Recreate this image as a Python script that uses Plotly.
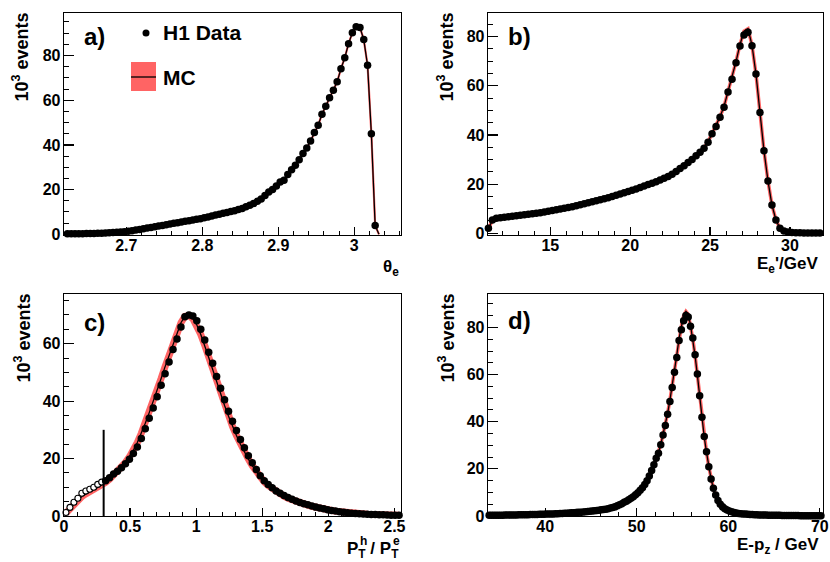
import numpy as np
import plotly.graph_objects as go

# ---------------- data ----------------
# a) theta_e, bins of 0.005 starting at centre 2.6225
theta_start, theta_width = 2.6225, 0.005
theta_data = [
    0.3, 0.3, 0.3, 0.3, 0.3, 0.4, 0.4, 0.4, 0.5, 0.5,
    0.6, 0.7, 0.8, 0.9, 1.0, 1.2, 1.4, 1.6, 1.9, 2.2,
    2.5, 2.8, 3.1, 3.4, 3.7, 4.0, 4.3, 4.6, 4.9, 5.2,
    5.5, 5.8, 6.1, 6.4, 6.7, 7.0, 7.4, 7.8, 8.2, 8.6,
    9.0, 9.4, 9.8, 10.2, 10.6, 11.1, 11.6, 12.3, 13.0, 13.8,
    14.8, 15.8, 17.4, 18.9, 20.1, 21.6, 23.4, 24.2, 26.8, 28.9,
    30.9, 33.4, 36.1, 38.6, 41.8, 45.5, 48.8, 53.7, 57.3, 61.1,
    64.4, 68.2, 74.1, 79.0, 85.3, 90.2, 92.8, 92.5, 87.1, 75.6,
    45.0, 4.0,
]
theta_mc = theta_data + [0.0]

# b) E_e', bins of 0.25 GeV starting at centre 11.125
ee_start, ee_width = 11.125, 0.25
ee_data = [
    2.0, 5.4, 6.1, 6.3, 6.5, 6.7, 6.9, 7.1, 7.3, 7.5,
    7.7, 7.9, 8.1, 8.4, 8.7, 9.0, 9.3, 9.6, 9.9, 10.2,
    10.5, 10.8, 11.2, 11.6, 12.0, 12.4, 12.8, 13.2, 13.6, 14.0,
    14.5, 15.0, 15.5, 16.0, 16.5, 17.0, 17.5, 18.0, 18.6, 19.2,
    19.8, 20.4, 21.0, 21.7, 22.4, 23.1, 24.0, 25.1, 26.3, 27.5,
    28.8, 30.0, 31.5, 33.0, 34.6, 37.0, 40.5, 43.4, 47.2, 51.3,
    57.5, 62.7, 69.4, 76.2, 80.7, 81.8, 76.3, 64.8, 49.1, 33.6,
    21.3, 11.5, 5.4, 2.0, 0.9, 0.5, 0.3, 0.2, 0.2, 0.1,
    0.1, 0.1, 0.1, 0.1,
]
ee_mc = [
    2.0, 5.2, 6.0, 6.3, 6.5, 6.7, 6.9, 7.1, 7.3, 7.5,
    7.7, 7.9, 8.1, 8.4, 8.7, 9.0, 9.3, 9.6, 9.9, 10.2,
    10.5, 10.8, 11.2, 11.6, 12.0, 12.4, 12.8, 13.2, 13.6, 14.0,
    14.5, 15.0, 15.5, 16.0, 16.5, 17.0, 17.5, 18.0, 18.6, 19.2,
    19.8, 20.4, 21.0, 21.7, 22.4, 23.1, 24.0, 25.1, 26.3, 27.5,
    28.8, 30.0, 31.5, 33.0, 34.8, 37.2, 40.5, 43.6, 47.4, 51.6,
    57.5, 63.0, 69.8, 76.8, 82.2, 83.2, 76.5, 64.8, 49.1, 33.6,
    21.3, 11.5, 5.4, 2.0, 0.9, 0.5, 0.3, 0.2, 0.2, 0.1,
    0.1, 0.1, 0.1, 0.1,
]

# c) P_T^h / P_T^e, bins of 0.03 starting at centre 0.015
pt_start, pt_width = 0.015, 0.03
pt_cut, pt_cut_height = 0.3, 30
pt_data = [
    1.2, 3.0, 4.8, 6.2, 7.9, 8.7, 9.3, 10.0, 11.0, 11.8,
    12.3, 13.3, 14.6, 15.6, 16.8, 18.2, 19.8, 21.8, 24.0, 27.0,
    30.4, 34.0, 37.6, 41.5, 45.5, 49.5, 53.6, 58.0, 61.6, 65.8,
    69.4, 70.0, 69.6, 68.0, 65.0, 61.3, 57.0, 53.2, 48.6, 44.5,
    40.5, 36.5, 33.0, 29.8, 26.6, 23.8, 21.0, 18.5, 16.2, 14.0,
    12.3, 11.0, 9.8, 8.7, 7.9, 7.1, 6.4, 5.8, 5.2, 4.7,
    4.3, 3.9, 3.5, 3.1, 2.8, 2.5, 2.2, 1.9, 1.7, 1.5,
    1.3, 1.1, 1.0, 0.9, 0.8, 0.7, 0.6, 0.55, 0.5, 0.45,
    0.4, 0.35, 0.3, 0.3, 0.25,
]
pt_mc = [
    1.0, 2.6, 4.2, 5.6, 6.8, 7.7, 8.4, 9.1, 9.9, 10.7,
    11.7, 12.8, 14.1, 15.5, 17.0, 18.7, 20.6, 22.9, 25.6, 28.8,
    32.3, 36.0, 39.8, 43.8, 47.9, 52.0, 56.0, 60.0, 64.0, 67.3,
    69.5, 69.8, 68.7, 66.5, 63.2, 59.4, 55.2, 51.0, 46.7, 42.5,
    38.5, 34.7, 31.2, 28.0, 25.0, 22.3, 19.8, 17.5, 15.4, 13.5,
    11.9, 10.6, 9.5, 8.5, 7.7, 6.9, 6.2, 5.6, 5.1, 4.6,
    4.2, 3.8, 3.4, 3.0, 2.7, 2.4, 2.1, 1.9, 1.7, 1.5,
    1.3, 1.1, 1.0, 0.9, 0.8, 0.7, 0.6, 0.55, 0.5, 0.45,
    0.4, 0.35, 0.3, 0.3, 0.25,
]

# d) E - p_z, bins of 0.25 GeV starting at centre 33.875
epz_start, epz_width = 33.875, 0.25
epz_data = [
    0.3, 0.3, 0.3, 0.3, 0.35, 0.35, 0.35, 0.4, 0.4, 0.4,
    0.45, 0.45, 0.45, 0.5, 0.5, 0.5, 0.55, 0.55, 0.6, 0.6,
    0.65, 0.65, 0.7, 0.7, 0.75, 0.8, 0.82, 0.85, 0.9, 0.95,
    1.0, 1.05, 1.1, 1.15, 1.2, 1.27, 1.34, 1.41, 1.48, 1.55,
    1.63, 1.71, 1.8, 1.9, 2.0, 2.1, 2.2, 2.3, 2.45, 2.6,
    2.75, 2.9, 3.1, 3.35, 3.6, 3.9, 4.3, 4.8, 5.2, 5.8,
    6.3, 6.9, 7.5, 8.2, 9.0, 9.9, 10.9, 12.0, 13.4, 15.0,
    17.0, 19.3, 21.7, 24.5, 26.6, 30.2, 34.4, 38.4, 43.2, 48.6,
    54.5, 61.0, 67.3, 74.5, 79.0, 82.8, 85.1, 84.4, 80.5, 75.5,
    68.4, 60.3, 51.0, 41.9, 33.7, 27.3, 20.9, 15.7, 11.8, 8.9,
    6.6, 5.0, 3.9, 3.1, 2.5, 2.1, 1.8, 1.5, 1.3, 1.1,
    1.0, 0.9, 0.8, 0.7, 0.65, 0.6, 0.55, 0.5, 0.45, 0.45,
    0.4, 0.4, 0.35, 0.35, 0.3, 0.3, 0.3, 0.3, 0.25, 0.25,
    0.25, 0.2, 0.2, 0.2, 0.2, 0.2, 0.15, 0.15, 0.15, 0.15,
    0.15, 0.1, 0.1, 0.1, 0.1, 0.1,
]
epz_mc = [
    0.3, 0.3, 0.3, 0.3, 0.35, 0.35, 0.35, 0.4, 0.4, 0.4,
    0.45, 0.45, 0.45, 0.5, 0.5, 0.5, 0.55, 0.55, 0.6, 0.6,
    0.65, 0.65, 0.7, 0.7, 0.75, 0.8, 0.82, 0.85, 0.9, 0.95,
    1.0, 1.05, 1.1, 1.15, 1.2, 1.27, 1.34, 1.41, 1.48, 1.55,
    1.63, 1.71, 1.8, 1.9, 2.0, 2.1, 2.2, 2.3, 2.45, 2.6,
    2.75, 2.9, 3.1, 3.35, 3.6, 3.9, 4.3, 4.8, 5.2, 5.8,
    6.3, 6.9, 7.5, 8.2, 9.0, 9.9, 10.9, 12.0, 13.4, 15.0,
    17.0, 19.3, 21.7, 24.3, 26.9, 30.3, 34.6, 38.8, 43.6, 49.2,
    55.2, 61.8, 68.3, 75.4, 80.6, 85.0, 86.8, 85.6, 81.0, 75.2,
    68.0, 59.8, 50.6, 41.6, 33.5, 27.0, 20.8, 15.6, 11.7, 8.9,
    6.6, 5.0, 3.9, 3.1, 2.5, 2.1, 1.8, 1.5, 1.3, 1.1,
    1.0, 0.9, 0.8, 0.7, 0.65, 0.6, 0.55, 0.5, 0.45, 0.45,
    0.4, 0.4, 0.35, 0.35, 0.3, 0.3, 0.3, 0.3, 0.25, 0.25,
    0.25, 0.2, 0.2, 0.2, 0.2, 0.2, 0.15, 0.15, 0.15, 0.15,
    0.15, 0.1, 0.1, 0.1, 0.1, 0.1,
]

# tick labels
theta_ticks = [2.7, 2.8, 2.9, 3.0]
theta_ticktext = ["2.7", "2.8", "2.9", "3"]
ee_ticks = [15, 20, 25, 30]
pt_ticks = [0, 0.5, 1, 1.5, 2, 2.5]
pt_ticktext = ["0", "0.5", "1", "1.5", "2", "2.5"]
epz_ticks = [40, 50, 60, 70]
y_ticks_abd = [0, 20, 40, 60, 80]
y_ticks_c = [0, 20, 40, 60]

panel_labels = ["a)", "b)", "c)", "d)"]
x_titles = ["θ<sub>e</sub>", "E<sub>e</sub>'/GeV",
            "P<sub>T</sub> / P<sub>T</sub>",
            "E-p<sub>z</sub> / GeV"]
pt_superscripts = ["h", "e"]
y_title = "10<sup>3</sup> events"
legend_data = "H1 Data"
legend_mc = "MC"

# ---------------- figure ----------------
W, H = 830, 562
FONT = "Liberation Sans"
RED = "#ff6464"


def centres(start, width, n):
    return start + width * np.arange(n)


def px(x):
    return x / W


def py(y):
    return 1 - y / H


def b(s):
    return f"<b>{s}</b>"


fig = go.Figure()

panels = [
    (centres(theta_start, theta_width, len(theta_data)), theta_data,
     centres(theta_start, theta_width, len(theta_mc)), theta_mc, 2.2),
    (centres(ee_start, ee_width, len(ee_data)), ee_data,
     centres(ee_start, ee_width, len(ee_mc)), ee_mc, 3.5),
    (centres(pt_start, pt_width, len(pt_data)), pt_data,
     centres(pt_start, pt_width, len(pt_mc)), pt_mc, 7.0),
    (centres(epz_start, epz_width, len(epz_data)), epz_data,
     centres(epz_start, epz_width, len(epz_mc)), epz_mc, 3.5),
]

for i, (xd, yd, xm, ym, bw) in enumerate(panels):
    xa = "x" if i == 0 else f"x{i+1}"
    ya = "y" if i == 0 else f"y{i+1}"
    fig.add_trace(go.Scatter(x=xm, y=ym, mode="lines", xaxis=xa, yaxis=ya,
                             line=dict(color=RED, width=bw), cliponaxis=False,
                             showlegend=False, hoverinfo="skip"))
    fig.add_trace(go.Scatter(x=xm, y=ym, mode="lines", xaxis=xa, yaxis=ya,
                             line=dict(color="black", width=1.3), cliponaxis=False,
                             showlegend=False))
    xd = np.asarray(xd)
    yd = np.asarray(yd)
    if i == 2:
        below = xd < pt_cut
        fig.add_trace(go.Scatter(x=xd[below], y=yd[below], mode="markers",
                                 xaxis=xa, yaxis=ya, cliponaxis=False,
                                 marker=dict(symbol="circle", size=6, color="white",
                                             line=dict(color="black", width=1.1)),
                                 showlegend=False))
        fig.add_trace(go.Scatter(x=xd[~below], y=yd[~below], mode="markers",
                                 xaxis=xa, yaxis=ya, cliponaxis=False,
                                 marker=dict(symbol="circle", size=7.5, color="black"),
                                 showlegend=False))
        fig.add_trace(go.Scatter(x=[pt_cut, pt_cut], y=[0, pt_cut_height], mode="lines",
                                 xaxis=xa, yaxis=ya, line=dict(color="black", width=2),
                                 showlegend=False))
    else:
        fig.add_trace(go.Scatter(x=xd, y=yd, mode="markers", xaxis=xa, yaxis=ya,
                                 cliponaxis=False,
                                 marker=dict(symbol="circle", size=7.5, color="black"),
                                 showlegend=False))

# frames in pixels: (left, right, top, bottom)
frames = [(64, 401, 13, 235), (488, 823, 13, 235),
          (64, 401, 294, 516), (488, 823, 294, 516)]
xranges = [[2.618, 3.0615], [11.1, 32.07], [0, 2.55], [33.75, 70.35]]
yranges = [[-0.3, 99.0], [-0.7, 89.6], [0, 77.3], [0, 94.2]]
xtickvals = [theta_ticks, ee_ticks, pt_ticks, epz_ticks]
xticktext = [theta_ticktext, [str(v) for v in ee_ticks], pt_ticktext,
             [str(v) for v in epz_ticks]]
xminor = [0.02, 1, 0.1, 2]
ytickvals = [y_ticks_abd, y_ticks_abd, y_ticks_c, y_ticks_abd]

tickfont = dict(family=FONT, size=16, color="black", weight="bold")
layout = dict(width=W, height=H,
              margin=dict(l=0, r=0, t=0, b=0, pad=0, autoexpand=False),
              paper_bgcolor="white", plot_bgcolor="white", showlegend=False)

for i in range(4):
    l, r, t, bt = frames[i]
    xk = "xaxis" if i == 0 else f"xaxis{i+1}"
    yk = "yaxis" if i == 0 else f"yaxis{i+1}"
    xa = "x" if i == 0 else f"x{i+1}"
    ya = "y" if i == 0 else f"y{i+1}"
    layout[xk] = dict(domain=[px(l), px(r)], range=xranges[i], anchor=ya,
                      tickmode="array", tickvals=xtickvals[i],
                      ticktext=[b(t_) for t_ in xticktext[i]],
                      ticks="inside", ticklen=8, tickwidth=1.2, tickcolor="black",
                      minor=dict(ticks="inside", ticklen=4, tickwidth=1, tickcolor="black",
                                 dtick=xminor[i], tick0=0),
                      showline=True, linecolor="black", linewidth=1.3, mirror=True,
                      showgrid=False, zeroline=False, tickfont=tickfont,
                      ticklabelstandoff=-5, automargin=False, fixedrange=True)
    layout[yk] = dict(domain=[py(bt), py(t)], range=yranges[i], anchor=xa,
                      tickmode="array", tickvals=ytickvals[i],
                      ticktext=[b(str(v)) for v in ytickvals[i]],
                      ticks="inside", ticklen=10, tickwidth=1.2, tickcolor="black",
                      minor=dict(ticks="inside", ticklen=5, tickwidth=1, tickcolor="black",
                                 dtick=5, tick0=0),
                      showline=True, linecolor="black", linewidth=1.3, mirror=True,
                      showgrid=False, zeroline=False, tickfont=tickfont,
                      ticklabelstandoff=-1, automargin=False, fixedrange=True)

fig.update_layout(**layout)

annots = []
bold = dict(family=FONT, color="black", weight="bold")
# panel labels
label_pos = [(82, 37), (506, 37), (82, 322), (506, 320)]
for lab, (x, y) in zip(panel_labels, label_pos):
    annots.append(dict(text=b(lab), x=px(x), y=py(y), xref="paper", yref="paper",
                       xanchor="left", yanchor="middle", showarrow=False,
                       font=dict(size=24, **bold)))
# y titles
ytitle_pos = [(21, 11), (446, 11), (23, 292), (447, 292)]
for (x, y) in ytitle_pos:
    annots.append(dict(text=b(y_title), x=px(x), y=py(y), xref="paper", yref="paper",
                       xanchor="center", yanchor="top", textangle=-90, showarrow=False,
                       font=dict(size=18, **bold)))
# x titles
xtitle_pos = [(401, 268), (820, 265), (401, 550), (821, 546)]
for txt, (x, y) in zip(x_titles, xtitle_pos):
    annots.append(dict(text=b(txt), x=px(x), y=py(y), xref="paper", yref="paper",
                       xanchor="right", yanchor="middle", showarrow=False,
                       font=dict(size=17, **bold)))
# stacked superscripts of P_T^h / P_T^e
for s, x in zip(pt_superscripts, [363.5, 396.5]):
    annots.append(dict(text=b(s), x=px(x), y=py(541), xref="paper", yref="paper",
                       xanchor="center", yanchor="middle", showarrow=False,
                       font=dict(size=12, **bold)))
# legend texts
annots.append(dict(text=b(legend_data), x=px(161), y=py(33), xref="paper", yref="paper",
                   xanchor="left", yanchor="middle", showarrow=False,
                   font=dict(size=21, **bold)))
annots.append(dict(text=b(legend_mc), x=px(161), y=py(77), xref="paper", yref="paper",
                   xanchor="left", yanchor="middle", showarrow=False,
                   font=dict(size=21, **bold)))

shapes = [
    dict(type="circle", xref="paper", yref="paper", x0=px(142.5), x1=px(149.5),
         y0=py(36.5), y1=py(29.5), fillcolor="black", line=dict(width=0)),
    dict(type="rect", xref="paper", yref="paper", x0=px(131), x1=px(156),
         y0=py(91), y1=py(62), fillcolor=RED, line=dict(width=0)),
    dict(type="line", xref="paper", yref="paper", x0=px(131), x1=px(156),
         y0=py(77), y1=py(77), line=dict(color="black", width=1.3)),
]
fig.update_layout(annotations=annots, shapes=shapes)

fig.write_html("out.html",
               config={"displayModeBar": False, "staticPlot": True},
               post_script="document.body.style.margin='0px';"
                           "document.body.style.overflow='hidden';")
